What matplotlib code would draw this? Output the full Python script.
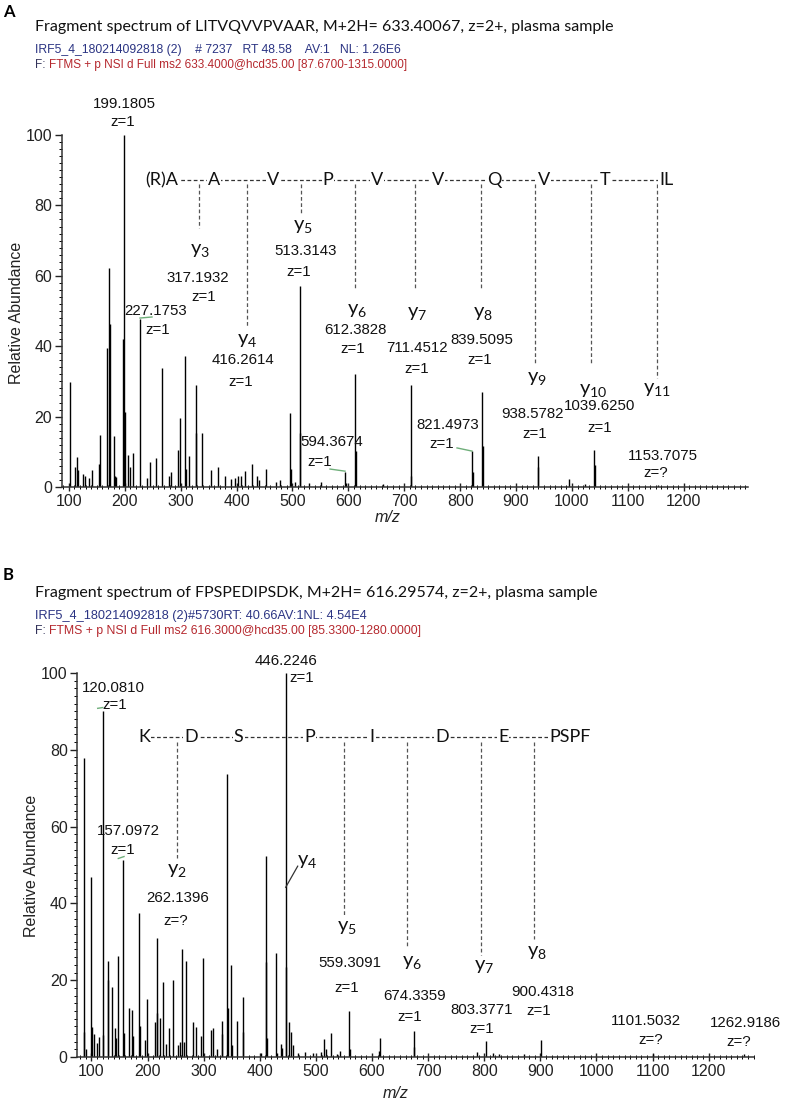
import matplotlib
matplotlib.use("Agg")
import matplotlib.pyplot as plt
from matplotlib.ticker import MultipleLocator

W, H = 787, 1105
ARIAL = ["Liberation Sans", "DejaVu Sans"]
NARROW = ["Liberation Sans Narrow", "Liberation Sans", "DejaVu Sans"]
CALIBRI = ["Lato", "DejaVu Sans"]

plt.rcParams["mathtext.fontset"] = "custom"
plt.rcParams["mathtext.rm"] = "Lato"
plt.rcParams["mathtext.it"] = "Lato:italic"

# ---- panel A: LITVQVVPVAAR ----
a_mz = [101.1, 110.2, 113.8, 115.5, 125.7, 128.1, 135.9, 140.6, 153.2, 156.1,
        168.7, 171.7, 173.5, 180.7, 183.0, 184.8, 197.2, 199.18, 200.2, 206.4,
        209.4, 214.2, 227.18, 239.9, 244.7, 255.5, 266.2, 279.9, 283.5, 295.0,
        298.5, 307.5, 309.2, 314.6, 327.2, 328.3, 337.9, 354.6, 366.0, 379.7,
        389.9, 397.6, 403.0, 408.4, 415.0, 427.6, 436.0, 440.1, 452.7, 470.6,
        477.8, 495.0, 496.8, 505.2, 513.31, 514.3, 530.3, 551.3, 594.37, 595.4,
        612.38, 613.4, 662.0, 711.45, 712.45, 821.50, 822.5, 839.51, 840.5,
        938.58, 939.6, 995.3, 1023.4, 1039.63, 1040.6, 1153.7]
a_int = [29.9, 5.6, 8.4, 4.8, 3.7, 3.0, 2.5, 4.8, 6.5, 14.8,
         39.4, 62.3, 46.3, 14.5, 3.0, 2.8, 42.0, 100.0, 21.4, 9.1,
         5.6, 9.7, 47.6, 2.5, 7.0, 8.1, 33.9, 3.2, 4.3, 10.5,
         19.5, 37.2, 5.0, 8.9, 29.0, 15.2, 15.2, 4.9, 5.6, 3.2,
         2.2, 2.5, 3.2, 3.0, 4.6, 6.4, 3.0, 2.0, 5.1, 1.3,
         2.0, 20.9, 5.0, 1.5, 57.2, 15.2, 1.2, 1.5, 4.4, 1.0,
         32.1, 10.2, 0.8, 29.0, 3.0, 10.3, 4.4, 27.1, 11.6,
         8.8, 5.6, 2.3, 0.9, 10.5, 6.2, 0.5]

# peak labels: text, x (m/z), y (rel. abundance)
a_peak_text = [("199.1805", 198.6, 108.8), ("z=1", 196.8, 103.7),
               ("227.1753", 255.8, 50.0), ("z=1", 259.4, 44.6),
               ("317.1932", 331.0, 59.4), ("z=1", 341.7, 54.0),
               ("416.2614", 411.5, 36.1), ("z=1", 407.9, 29.8),
               ("513.3143", 522.5, 67.0), ("z=1", 511.7, 61.1),
               ("612.3828", 611.9, 44.6), ("z=1", 608.4, 39.2),
               ("594.3674", 570.8, 12.8), ("z=1", 549.3, 7.1),
               ("711.4512", 722.9, 39.5), ("z=1", 722.9, 33.5),
               ("839.5095", 839.2, 41.8), ("z=1", 835.6, 36.1),
               ("821.4973", 778.3, 17.6), ("z=1", 767.6, 12.2),
               ("938.5782", 928.6, 20.7), ("z=1", 934.0, 15.1),
               ("1039.6250", 1050.3, 23.0), ("z=1", 1050.3, 16.8),
               ("1153.7075", 1163.0, 8.8), ("z=?", 1150.5, 4.0)]
a_leaders = [((227.2, 248.7), (48.0, 48.3)),
             ((567.2, 594.0), (5.1, 4.5)),
             ((794.4, 821.2), (11.1, 10.2))]
a_seq = ["(R)A", "A", "V", "P", "V", "V", "Q", "V", "T", "IL"]
a_seq_x = [266.6, 359.6, 465.2, 563.6, 651.3, 760.4, 860.6, 950.1, 1059.2, 1168.3]
a_seq_y = 87.2
a_ions = ["3", "4", "5", "6", "7", "8", "9", "10", "11"]
a_drop_x = [332.8, 418.6, 515.3, 611.9, 719.3, 837.4, 934.0, 1034.2, 1152.3]
a_drop_bottom = [73.6, 45.7, 77.8, 56.5, 56.0, 56.0, 35.2, 35.2, 31.0]
a_ion_x = [334.6, 418.6, 518.9, 615.5, 722.9, 841.0, 937.6, 1037.8, 1152.3]
a_ion_y = [67.6, 42.0, 74.4, 50.3, 49.7, 49.7, 31.0, 27.8, 28.1]

# ---- panel B: FPSPEDIPSDK ----
b_mz = [86.1, 87.4, 90.4, 98.8, 100.5, 104.6, 109.4, 113.0, 120.08, 121.2,
        129.0, 130.1, 136.7, 142.1, 143.8, 147.4, 157.10, 158.0, 167.6, 171.8,
        173.6, 184.8, 186.6, 195.5, 199.6, 213.3, 216.4, 217.5, 222.2, 227.0,
        232.9, 238.3, 245.4, 253.8, 257.3, 262.14, 265.0, 268.0, 281.6, 286.4,
        295.3, 299.4, 313.7, 317.3, 324.4, 332.2, 333.3, 341.6, 342.9, 348.2,
        350.0, 358.9, 369.6, 370.7, 401.7, 410.6, 411.7, 413.5, 428.4, 430.2,
        437.3, 440.2, 446.22, 447.2, 452.6, 455.6, 458.7, 468.7, 480.6, 495.4,
        508.6, 514.5, 518.0, 526.4, 537.0, 543.0, 559.31, 560.3, 612.5, 614.3,
        674.34, 675.3, 786.6, 803.38, 815.1, 826.9, 870.8, 900.43, 1101.50, 1262.92]
b_int = [77.8, 6.6, 2.0, 47.0, 7.9, 6.0, 3.6, 5.2, 90.1, 5.7,
         25.0, 20.0, 18.3, 7.5, 5.0, 26.3, 51.3, 6.3, 12.8, 12.2,
         5.5, 37.6, 8.2, 4.4, 15.0, 9.0, 30.9, 11.5, 10.1, 19.6,
         3.5, 7.6, 20.0, 3.1, 3.9, 28.0, 3.9, 25.0, 9.2, 7.7,
         5.5, 25.9, 7.0, 7.6, 2.0, 9.3, 6.0, 73.6, 12.8, 24.0,
         3.0, 9.4, 15.7, 6.6, 1.0, 52.3, 24.8, 5.0, 27.2, 1.0,
         3.5, 2.3, 100.0, 23.5, 9.2, 6.6, 3.1, 1.0, 1.2, 1.0,
         1.4, 4.6, 2.0, 6.3, 0.8, 1.5, 12.1, 2.0, 1.6, 5.0,
         6.9, 2.7, 1.2, 4.2, 1.0, 0.8, 0.8, 4.4, 0.8, 0.8]

b_peak_text = [("446.2246", 446.8, 103.2), ("z=1", 474.7, 98.6),
               ("120.0810", 139.0, 96.0), ("z=1", 142.1, 91.7),
               ("157.0972", 165.8, 58.9), ("z=1", 155.8, 53.9),
               ("262.1396", 253.8, 41.5), ("z=?", 250.7, 35.4),
               ("559.3091", 560.8, 24.6), ("z=1", 554.9, 17.9),
               ("674.3359", 675.4, 15.9), ("z=1", 667.7, 10.5),
               ("803.3771", 795.5, 12.2), ("z=1", 795.5, 7.3),
               ("900.4318", 903.5, 16.8), ("z=1", 896.3, 12.1),
               ("1101.5032", 1087.7, 9.5), ("z=?", 1096.6, 4.4),
               ("1262.9186", 1264.7, 8.8), ("z=?", 1252.7, 4.0)]
b_leaders = [((111.2, 120.1), (90.8, 91.0)),
             ((147.9, 158.1), (51.7, 52.2))]
b_seq = ["K", "D", "S", "P", "I", "D", "E", "PSPF"]
b_seq_x = [193.7, 277.5, 362.5, 489.1, 600.5, 724.2, 834.0, 952.8]
b_seq_y = 83.3
b_ions = ["2", "5", "6", "7", "8"]
b_drop_x = [252.0, 550.6, 662.9, 793.7, 888.7]
b_drop_bottom = [51.7, 36.5, 28.3, 26.6, 30.7]
b_ion_x = [252.0, 554.9, 670.7, 799.6, 893.5]
b_ion_y = [48.7, 34.1, 24.8, 23.7, 27.4]


def fx(px):
    return px / W


def fy(py):
    return 1 - py / H


def style_axes(ax, xlim):
    ax.set_xlim(*xlim)
    ax.set_ylim(0, 100)
    for s in ("top", "right"):
        ax.spines[s].set_visible(False)
    for s in ("left", "bottom"):
        ax.spines[s].set_linewidth(1.1)
        ax.spines[s].set_color("#333333")
    ax.set_xticks(range(100, 1300, 100))
    ax.xaxis.set_minor_locator(MultipleLocator(10))
    ax.set_yticks(range(0, 101, 20))
    ax.yaxis.set_minor_locator(MultipleLocator(2))
    ax.tick_params(axis="x", which="major", direction="inout", length=6, width=1, pad=2,
                   labelsize=11.5, colors="#222222")
    ax.tick_params(axis="x", which="minor", direction="inout", length=3, width=0.7)
    ax.tick_params(axis="y", which="major", direction="out", length=5, width=1, pad=2,
                   labelsize=11.5, colors="#222222")
    ax.tick_params(axis="y", which="minor", direction="out", length=2.5, width=0.7)
    for lab in ax.get_xticklabels() + ax.get_yticklabels():
        lab.set_family(ARIAL)


def draw_panel(ax, mz, inten, peak_text, leaders, seq, seq_x, seq_y,
               ions, drop_x, drop_bottom, ion_x, ion_y):
    ax.vlines(mz, 0, inten, color="black", lw=1.0)
    for s, x, y in peak_text:
        ax.text(x, y, s, ha="center", va="center", fontsize=10.8, family=ARIAL,
                color="#111111")
    for xs, ys in leaders:
        ax.plot(xs, ys, color="#6fae7a", lw=1.0, clip_on=False)
    # sequence ladder
    ax.plot([seq_x[0], seq_x[-1]], [seq_y, seq_y], color="#333333", lw=0.9,
            dashes=(3, 2), clip_on=False, zorder=2)
    for s, x in zip(seq, seq_x):
        ax.text(x, seq_y, s, ha="center", va="center", fontsize=13, family=CALIBRI,
                color="#111111", zorder=3,
                bbox=dict(facecolor="white", edgecolor="none", pad=0.6))
    for x, yb in zip(drop_x, drop_bottom):
        ax.plot([x, x], [seq_y - 1.2, yb], color="#555555", lw=0.9, dashes=(3, 2),
                clip_on=False)
    for n, x, y in zip(ions, ion_x, ion_y):
        ax.text(x, y, r"$\mathrm{y}_{%s}$" % n, ha="center", va="center",
                fontsize=14.5, color="#111111")


fig = plt.figure(figsize=(W / 100, H / 100), dpi=100)

# ---- panel A ----
axA = fig.add_axes([fx(62), fy(487), (748 - 62) / W, (487 - 135) / H])
style_axes(axA, (87.67, 1315))
draw_panel(axA, a_mz, a_int, a_peak_text, a_leaders, a_seq, a_seq_x, a_seq_y,
           a_ions, a_drop_x, a_drop_bottom, a_ion_x, a_ion_y)

fig.text(fx(3), fy(12), "A", fontsize=12, weight="bold", family=CALIBRI, va="center")
fig.text(fx(35), fy(27), "Fragment spectrum of LITVQVVPVAAR, M+2H= 633.40067, z=2+, plasma sample",
         fontsize=11.5, family=CALIBRI, va="center", color="#111111")
fig.text(fx(35), fy(50), "IRF5_4_180214092818 (2)    # 7237   RT 48.58    AV:1   NL: 1.26E6",
         fontsize=8.8, family=NARROW, va="center", color="#2b3483")
tA = fig.text(fx(35), fy(65), "F:", fontsize=8.5, family=NARROW, va="center", color="#33335a")
axA.annotate("FTMS + p NSI d Full ms2 633.4000@hcd35.00 [87.6700-1315.0000]",
             xy=(1, 0.5), xycoords=tA, xytext=(2.5, 0), textcoords="offset points",
             fontsize=8.5, family=NARROW, va="center", color="#b5282e")
fig.text(fx(17), fy(313), "Relative Abundance", rotation=90, ha="center", va="center",
         fontsize=11.5, family=ARIAL, color="#222222")
fig.text(fx(388), fy(517), "m/z", ha="center", va="center", fontsize=11.5,
         family=ARIAL, style="italic", color="#222222")

# ---- panel B ----
axB = fig.add_axes([fx(77.4), fy(1057), (753.6 - 77.4) / W, (1057 - 673) / H])
style_axes(axB, (75, 1280))
draw_panel(axB, b_mz, b_int, b_peak_text, b_leaders, b_seq, b_seq_x, b_seq_y,
           b_ions, b_drop_x, b_drop_bottom, b_ion_x, b_ion_y)
# y4 pointer onto the 446 peak
axB.plot([446.2, 467.6], [44.2, 49.7], color="#333333", lw=0.9)
axB.text(483.6, 51.3, r"$\mathrm{y}_{4}$", ha="center", va="center", fontsize=14.5,
         color="#111111")

fig.text(fx(3), fy(575), "B", fontsize=12, weight="bold", family=CALIBRI, va="center")
fig.text(fx(35), fy(593), "Fragment spectrum of FPSPEDIPSDK, M+2H= 616.29574, z=2+, plasma sample",
         fontsize=11.5, family=CALIBRI, va="center", color="#111111")
fig.text(fx(35), fy(616), "IRF5_4_180214092818 (2)#5730RT: 40.66AV:1NL: 4.54E4",
         fontsize=9.2, family=NARROW, va="center", color="#2b3483")
tB = fig.text(fx(35), fy(631), "F:", fontsize=8.8, family=NARROW, va="center", color="#33335a")
axB.annotate("FTMS + p NSI d Full ms2 616.3000@hcd35.00 [85.3300-1280.0000]",
             xy=(1, 0.5), xycoords=tB, xytext=(2.5, 0), textcoords="offset points",
             fontsize=8.8, family=NARROW, va="center", color="#b5282e")
fig.text(fx(32), fy(866), "Relative Abundance", rotation=90, ha="center", va="center",
         fontsize=11.5, family=ARIAL, color="#222222")
fig.text(fx(396), fy(1094), "m/z", ha="center", va="center", fontsize=11.5,
         family=ARIAL, style="italic", color="#222222")

fig.savefig("out.png", dpi=100, facecolor="white")
